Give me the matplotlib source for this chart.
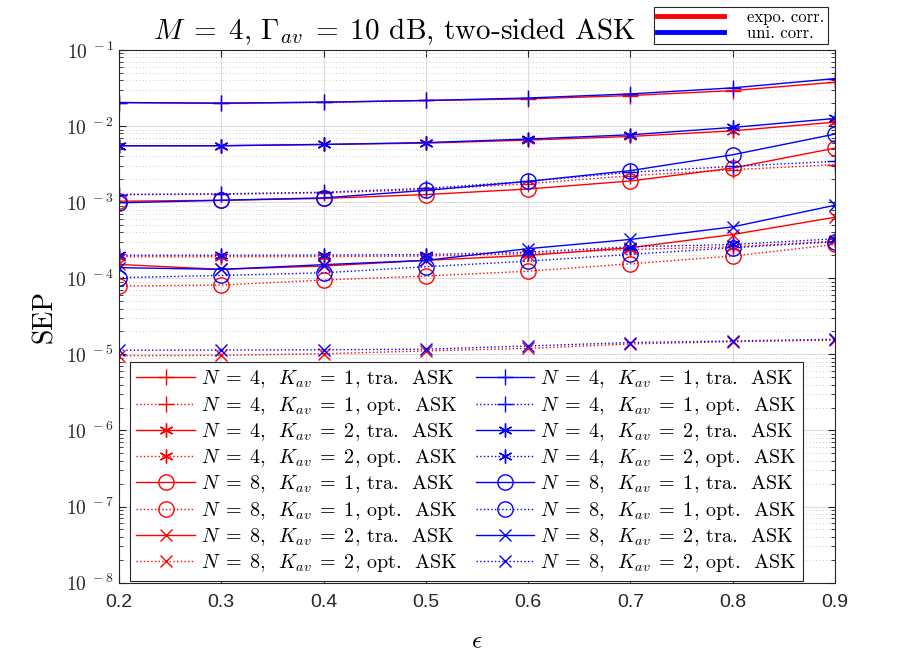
import matplotlib
matplotlib.use("Agg")
import matplotlib.pyplot as plt
import matplotlib.ticker as mticker
from matplotlib.lines import Line2D
import numpy as np

plt.rcParams['mathtext.fontset'] = 'cm'
plt.rcParams['axes.formatter.use_mathtext'] = True

eps = [0.2, 0.3, 0.4, 0.5, 0.6, 0.7, 0.8, 0.9]

# exponential correlation (red)
r_n4k1_tra = [0.0204, 0.0200, 0.0206, 0.0217, 0.0228, 0.0252, 0.0293, 0.0377]
r_n4k1_opt = [0.00126, 0.00127, 0.00133, 0.00146, 0.00175, 0.00223, 0.00267, 0.00311]
r_n4k2_tra = [0.00552, 0.00552, 0.00574, 0.00598, 0.00655, 0.00731, 0.00867, 0.01127]
r_n4k2_opt = [0.000192, 0.000192, 0.000193, 0.000196, 0.00021, 0.000239, 0.000259, 0.000308]
r_n8k1_tra = [0.00103, 0.00106, 0.00112, 0.00126, 0.00149, 0.00190, 0.00281, 0.00514]
r_n8k1_opt = [0.0000791, 0.0000815, 0.0000948, 0.000107, 0.000124, 0.000155, 0.000196, 0.000278]
r_n8k2_tra = [0.000152, 0.000131, 0.000145, 0.000172, 0.000200, 0.000252, 0.000376, 0.000634]
r_n8k2_opt = [9.6e-6, 9.7e-6, 1.02e-5, 1.11e-5, 1.2e-5, 1.37e-5, 1.47e-5, 1.54e-5]

# uniform correlation (blue)
b_n4k1_tra = [0.0204, 0.0200, 0.0206, 0.0217, 0.0234, 0.0265, 0.0318, 0.0421]
b_n4k1_opt = [0.00126, 0.00129, 0.00135, 0.00152, 0.00188, 0.00247, 0.00296, 0.00344]
b_n4k2_tra = [0.00552, 0.00552, 0.00574, 0.00607, 0.00676, 0.00769, 0.0096, 0.0126]
b_n4k2_opt = [0.000201, 0.000201, 0.000202, 0.000205, 0.00022, 0.000259, 0.000278, 0.00033]
b_n8k1_tra = [0.00098, 0.00106, 0.00114, 0.00143, 0.00188, 0.0026, 0.0042, 0.00786]
b_n8k1_opt = [0.000102, 0.000109, 0.000118, 0.000142, 0.000168, 0.000206, 0.000252, 0.000302]
b_n8k2_tra = [0.000138, 0.000131, 0.000151, 0.000172, 0.000245, 0.000324, 0.000474, 0.000912]
b_n8k2_opt = [1.135e-5, 1.14e-5, 1.15e-5, 1.17e-5, 1.29e-5, 1.43e-5, 1.50e-5, 1.58e-5]

labels = [r'$N\;=\;4$,  $K_{av}\;=\;1$, tra.  ASK',
          r'$N\;=\;4$,  $K_{av}\;=\;1$, opt.  ASK',
          r'$N\;=\;4$,  $K_{av}\;=\;2$, tra.  ASK',
          r'$N\;=\;4$,  $K_{av}\;=\;2$, opt.  ASK',
          r'$N\;=\;8$,  $K_{av}\;=\;1$, tra.  ASK',
          r'$N\;=\;8$,  $K_{av}\;=\;1$, opt.  ASK',
          r'$N\;=\;8$,  $K_{av}\;=\;2$, tra.  ASK',
          r'$N\;=\;8$,  $K_{av}\;=\;2$, opt.  ASK']
red_series = [r_n4k1_tra, r_n4k1_opt, r_n4k2_tra, r_n4k2_opt,
              r_n8k1_tra, r_n8k1_opt, r_n8k2_tra, r_n8k2_opt]
blue_series = [b_n4k1_tra, b_n4k1_opt, b_n4k2_tra, b_n4k2_opt,
               b_n8k1_tra, b_n8k1_opt, b_n8k2_tra, b_n8k2_opt]
asterisk = (6, 2, 0)
markers = ['+', '+', asterisk, asterisk, 'o', 'o', 'x', 'x']
styles = ['-', ':', '-', ':', '-', ':', '-', ':']
msizes = [12, 12, 10, 10, 11, 11, 8, 8]

fig = plt.figure(figsize=(9.2, 6.58), dpi=100)
ax = fig.add_axes([0.1293, 0.1145, 0.7783, 0.8095])

handles = []
for col, series in [('#ff0000', red_series), ('#0000ff', blue_series)]:
    for ys, m, ls, ms in zip(series, markers, styles, msizes):
        h, = ax.semilogy(eps, ys, color=col, linestyle=ls, marker=m,
                         markersize=ms, markerfacecolor='none',
                         markeredgewidth=1.0, linewidth=1.0)
        handles.append(h)

ax.set_xlim(0.2, 0.9)
ax.set_ylim(1e-8, 1e-1)
ax.set_xticks(eps)
ax.set_xticklabels(['%.1f' % e for e in eps])
ax.yaxis.set_major_locator(mticker.LogLocator(base=10, numticks=20))
ax.yaxis.set_minor_locator(mticker.LogLocator(base=10, subs=np.arange(2, 10), numticks=20))
ax.yaxis.set_minor_formatter(mticker.NullFormatter())
ax.yaxis.set_major_formatter(mticker.FuncFormatter(
    lambda v, p: r'$\mathsf{10^{\ %d}}$' % int(round(np.log10(v)))))

ax.grid(True, which='major', color='#dddddd', linewidth=0.8, linestyle='-')
ax.grid(True, which='minor', axis='y', color='#bbbbbb', linewidth=0.6, linestyle=(0, (1, 3)))
ax.set_axisbelow(True)
ax.tick_params(which='both', direction='in', top=True, right=True,
               colors='#262626', labelsize=14)
ax.tick_params(axis='x', pad=8)
ax.tick_params(which='major', length=5)
ax.tick_params(which='minor', length=3)
for lab in ax.get_xticklabels():
    lab.set_fontfamily('Liberation Sans')
for s in ax.spines.values():
    s.set_color('#262626')
    s.set_linewidth(0.8)

ax.set_xlabel(r'$\epsilon$', fontsize=18, labelpad=13)
ax.set_ylabel('SEP', fontsize=20, family='cmr10', labelpad=6)
ax.set_title(r'$M\;=\;4$, $\Gamma_{av}\;=\;10$ dB, two-sided ASK', fontsize=21,
             family='cmr10', x=0.385, pad=8)

leg = ax.legend(handles, labels * 2, ncol=2, loc='lower left',
                bbox_to_anchor=(0.016, 0.004),
                prop={'family': 'cmr10', 'size': 14.5},
                handlelength=2.9, handletextpad=0.3,
                columnspacing=0.9, labelspacing=0.22, borderpad=0.3,
                fancybox=False, edgecolor='#262626', framealpha=1,
                borderaxespad=0)
leg.get_frame().set_linewidth(0.8)

h1 = Line2D([], [], color='#ff0000', linewidth=3.5)
h2 = Line2D([], [], color='#0000ff', linewidth=3.5)
leg2 = fig.legend([h1, h2], ['expo. corr.', 'uni. corr.'],
                  loc='upper right', bbox_to_anchor=(0.9, 0.99),
                  prop={'family': 'cmr10', 'size': 12},
                  handlelength=4.0, handletextpad=1.4, labelspacing=0.0,
                  borderpad=0.2, fancybox=False, edgecolor='#262626',
                  framealpha=1, borderaxespad=0)
leg2.get_frame().set_linewidth(0.8)

fig.savefig('out.png', dpi=100)
